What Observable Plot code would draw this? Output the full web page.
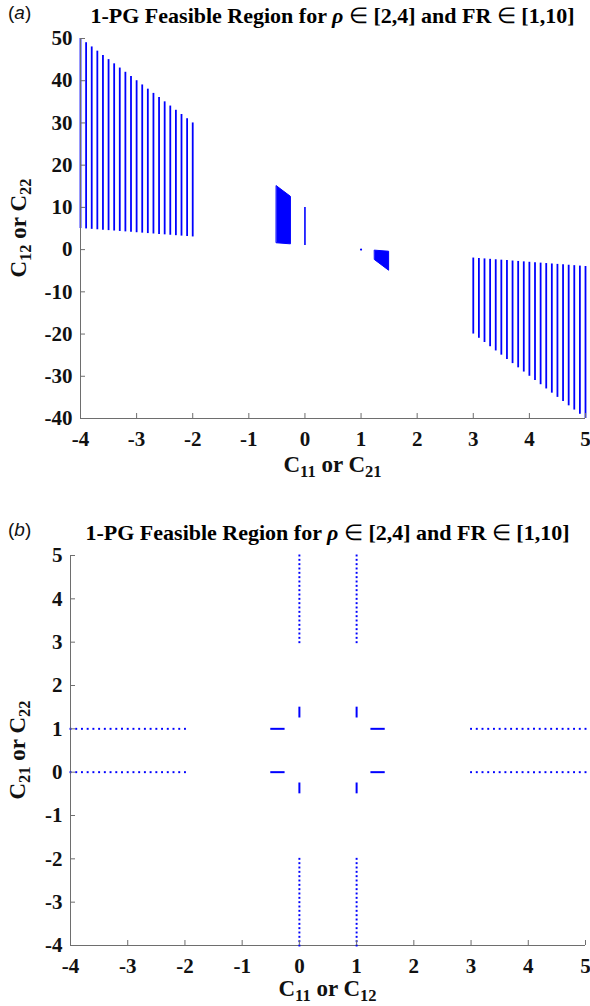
<!DOCTYPE html>
<html><head><meta charset="utf-8">
<script src="https://cdn.jsdelivr.net/npm/d3@7"></script>
<script src="https://cdn.jsdelivr.net/npm/@observablehq/plot@0.6"></script>
<style>
body{margin:0;background:#fff;}
#wrap{position:relative;width:590px;height:1006px;overflow:hidden;background:#fff;}
.chart{position:absolute;left:0;}
</style></head><body><div id="wrap"></div>
<script>
// ---------- Panel (a) data ----------
const aXTicks = [-4, -3, -2, -1, 0, 1, 2, 3, 4, 5];
const aYTicks = [-40, -30, -20, -10, 0, 10, 20, 30, 40, 50];
const aLeftX = [-4,-3.9,-3.8,-3.7,-3.6,-3.5,-3.4,-3.3,-3.2,-3.1,-3,-2.9,-2.8,-2.7,-2.6,-2.5,-2.4,-2.3,-2.2,-2.1,-2];
const aLeftTop = [50,49,48,47,46,45,44,43,42,41,40,39,38,37,36,35,34,33,32,31,30];
const aLeftBottom = [5,4.9,4.8,4.7,4.6,4.5,4.4,4.3,4.2,4.1,4,3.9,3.8,3.7,3.6,3.5,3.4,3.3,3.2,3.1,3];
const aRightX = [3,3.1,3.2,3.3,3.4,3.5,3.6,3.7,3.8,3.9,4,4.1,4.2,4.3,4.4,4.5,4.6,4.7,4.8,4.9,5];
const aRightTop = [-2,-2.1,-2.2,-2.3,-2.4,-2.5,-2.6,-2.7,-2.8,-2.9,-3,-3.1,-3.2,-3.3,-3.4,-3.5,-3.6,-3.7,-3.8,-3.9,-4];
const aRightBottom = [-20,-21,-22,-23,-24,-25,-26,-27,-28,-29,-30,-31,-32,-33,-34,-35,-36,-37,-38,-39,-40];
const aBlockLX = [-0.5, -0.25];
const aBlockLTop = [15, 12.5];
const aBlockLBottom = [1.5, 1.25];
const aBlockRX = [1.25, 1.5];
const aBlockRTop = [-0.25, -0.5];
const aBlockRBottom = [-2.5, -5];
const aLineX = [0];
const aLineTop = [10];
const aLineBottom = [1];
const aPointX = [1];
const aPointY = [0];

// ---------- Panel (b) data ----------
const bXTicks = [-4, -3, -2, -1, 0, 1, 2, 3, 4, 5];
const bYTicks = [-4, -3, -2, -1, 0, 1, 2, 3, 4, 5];
const bDotsLeftX = [-4,-3.9,-3.8,-3.7,-3.6,-3.5,-3.4,-3.3,-3.2,-3.1,-3,-2.9,-2.8,-2.7,-2.6,-2.5,-2.4,-2.3,-2.2,-2.1,-2];
const bDotsRightX = [3,3.1,3.2,3.3,3.4,3.5,3.6,3.7,3.8,3.9,4,4.1,4.2,4.3,4.4,4.5,4.6,4.7,4.8,4.9,5];
const bDotRows = [0, 1];
const bDotsTopY = [3,3.1,3.2,3.3,3.4,3.5,3.6,3.7,3.8,3.9,4,4.1,4.2,4.3,4.4,4.5,4.6,4.7,4.8,4.9,5];
const bDotsBottomY = [-4,-3.9,-3.8,-3.7,-3.6,-3.5,-3.4,-3.3,-3.2,-3.1,-3,-2.9,-2.8,-2.7,-2.6,-2.5,-2.4,-2.3,-2.2,-2.1,-2];
const bDotCols = [0, 1];
const bSegHLeft = [-0.5, -0.25];
const bSegHRight = [1.25, 1.5];
const bSegVTop = [1.25, 1.5];
const bSegVBottom = [-0.5, -0.25];

const BLUE = "#0000ff";
const AXIS = "#6e6e6e";
const SERIF = "'Liberation Serif','Times New Roman',serif";
const TICKFS = 21;
const fmt = d => String(d);

function zip(xs, a, b) { return xs.map((x, i) => ({x, top: a[i], bottom: b[i]})); }

// ---------- Plot (a) ----------
const wrap = document.getElementById("wrap");
const A = {w: 590, h: 500, mt: 38, mb: 82, ml: 80, mr: 5};
const plotA = Plot.plot({
  width: A.w, height: A.h,
  marginTop: A.mt, marginBottom: A.mb, marginLeft: A.ml, marginRight: A.mr,
  x: {domain: [aXTicks[0], aXTicks[aXTicks.length - 1]]},
  y: {domain: [aYTicks[0], aYTicks[aYTicks.length - 1]]},
  style: {fontFamily: SERIF, fontWeight: "bold", color: "#111", background: "white", overflow: "visible"},
  marks: [
    Plot.ruleX(zip(aLeftX, aLeftTop, aLeftBottom), {x: "x", y1: "bottom", y2: "top", stroke: BLUE, strokeWidth: 1.8}),
    Plot.ruleX(zip(aRightX, aRightTop, aRightBottom), {x: "x", y1: "bottom", y2: "top", stroke: BLUE, strokeWidth: 1.8}),
    Plot.areaY(zip(aBlockLX, aBlockLTop, aBlockLBottom), {x: "x", y1: "bottom", y2: "top", fill: BLUE, stroke: BLUE, strokeWidth: 1}),
    Plot.areaY(zip(aBlockRX, aBlockRTop, aBlockRBottom), {x: "x", y1: "bottom", y2: "top", fill: BLUE, stroke: BLUE, strokeWidth: 1}),
    Plot.ruleX(zip(aLineX, aLineTop, aLineBottom), {x: "x", y1: "bottom", y2: "top", stroke: BLUE, strokeWidth: 1.6}),
    Plot.dot(aPointX.map((x, i) => ({x, y: aPointY[i]})), {x: "x", y: "y", r: 1.1, fill: BLUE, stroke: null}),
    Plot.ruleX([aXTicks[0]], {stroke: AXIS, strokeWidth: 1}),
    Plot.ruleY([aYTicks[0]], {stroke: AXIS, strokeWidth: 1}),
    Plot.axisX({ticks: aXTicks, tickFormat: fmt, tickSize: -5, tickPadding: 18, label: null, fontSize: TICKFS, stroke: AXIS}),
    Plot.axisY({ticks: aYTicks, tickFormat: fmt, tickSize: -5, tickPadding: 13, label: null, fontSize: TICKFS, stroke: AXIS})
  ]
});
plotA.classList.add("chart");
plotA.style.top = "0px";
wrap.appendChild(plotA);

// ---------- Plot (b) ----------
const B = {top: 500, w: 590, h: 506, mt: 55, mb: 61, ml: 70, mr: 5};
const bDots = [];
for (const y of bDotRows) for (const x of bDotsLeftX.concat(bDotsRightX)) bDots.push({x, y});
for (const x of bDotCols) for (const y of bDotsTopY.concat(bDotsBottomY)) bDots.push({x, y});
const bSegsH = [];
for (const y of bDotRows) for (const s of [bSegHLeft, bSegHRight]) bSegsH.push({x1: s[0], x2: s[1], y});
const bSegsV = [];
for (const x of bDotCols) for (const s of [bSegVTop, bSegVBottom]) bSegsV.push({y1: s[0], y2: s[1], x});

const plotB = Plot.plot({
  width: B.w, height: B.h,
  marginTop: B.mt, marginBottom: B.mb, marginLeft: B.ml, marginRight: B.mr,
  x: {domain: [bXTicks[0], bXTicks[bXTicks.length - 1]]},
  y: {domain: [bYTicks[0], bYTicks[bYTicks.length - 1]]},
  style: {fontFamily: SERIF, fontWeight: "bold", color: "#111", background: "white", overflow: "visible"},
  marks: [
    Plot.ruleX([bXTicks[0]], {stroke: AXIS, strokeWidth: 1}),
    Plot.ruleY([bYTicks[0]], {stroke: AXIS, strokeWidth: 1}),
    Plot.dot(bDots, {x: "x", y: "y", r: 1.1, fill: BLUE, stroke: null, symbol: "square"}),
    Plot.ruleY(bSegsH, {x1: "x1", x2: "x2", y: "y", stroke: BLUE, strokeWidth: 2}),
    Plot.ruleX(bSegsV, {y1: "y1", y2: "y2", x: "x", stroke: BLUE, strokeWidth: 2}),
    Plot.axisX({ticks: bXTicks, tickFormat: fmt, tickSize: -5, tickPadding: 18, label: null, fontSize: TICKFS, stroke: AXIS}),
    Plot.axisY({ticks: bYTicks, tickFormat: fmt, tickSize: -5, tickPadding: 13, label: null, fontSize: TICKFS, stroke: AXIS})
  ]
});
plotB.classList.add("chart");
plotB.style.top = B.top + "px";
wrap.appendChild(plotB);

// ---------- Texts ----------
function label(svg, x, y, rot, parts, size) {
  const t = d3.select(svg).append("text")
    .attr("text-anchor", "middle")
    .attr("transform", `translate(${x},${y}) rotate(${rot})`)
    .attr("font-family", SERIF).attr("font-weight", "bold")
    .attr("font-size", size).attr("fill", "#111");
  let shift = 0;
  for (const [s, sub] of parts) {
    const want = sub ? 5 : 0;
    t.append("tspan").attr("dy", want - shift).attr("font-size", sub ? size * 0.72 : size).text(s);
    shift = want;
  }
}
function title(svg, cx, y, letter) {
  const s = d3.select(svg);
  const t = s.append("text").attr("text-anchor", "middle").attr("x", cx).attr("y", y)
    .attr("font-family", SERIF).attr("font-weight", "bold").attr("font-size", 22).attr("fill", "#000");
  t.append("tspan").text("1-PG Feasible Region for ");
  t.append("tspan").attr("font-style", "italic").text("ρ");
  t.append("tspan").attr("font-weight", "normal").text(" ∈ ");
  t.append("tspan").text("[2,4] and FR");
  t.append("tspan").attr("font-weight", "normal").text(" ∈ ");
  t.append("tspan").text("[1,10]");
  const p = s.append("text").attr("x", 8).attr("y", y - 4).attr("text-anchor", "start")
    .attr("font-family", "'Liberation Sans',Arial,sans-serif").attr("font-weight", "normal")
    .attr("font-size", 19).attr("fill", "#111");
  p.append("tspan").text("(");
  p.append("tspan").attr("font-style", "italic").text(letter);
  p.append("tspan").text(")");
}

// panel a
title(plotA, (A.ml + A.w - A.mr) / 2, 23, "a");
label(plotA, (A.ml + A.w - A.mr) / 2, (A.h - A.mb) + 54, 0, [["C", false], ["11", true], [" or C", false], ["21", true]], 23);
label(plotA, 26, (A.mt + A.h - A.mb) / 2, -90, [["C", false], ["12", true], [" or C", false], ["22", true]], 23);

// panel b
title(plotB, (B.ml + B.w - B.mr) / 2, 40, "b");
label(plotB, (B.ml + B.w - B.mr) / 2, (B.h - B.mb) + 51, 0, [["C", false], ["11", true], [" or C", false], ["12", true]], 23);
label(plotB, 25, (B.mt + B.h - B.mb) / 2, -90, [["C", false], ["21", true], [" or C", false], ["22", true]], 23);
</script>
</body></html>
